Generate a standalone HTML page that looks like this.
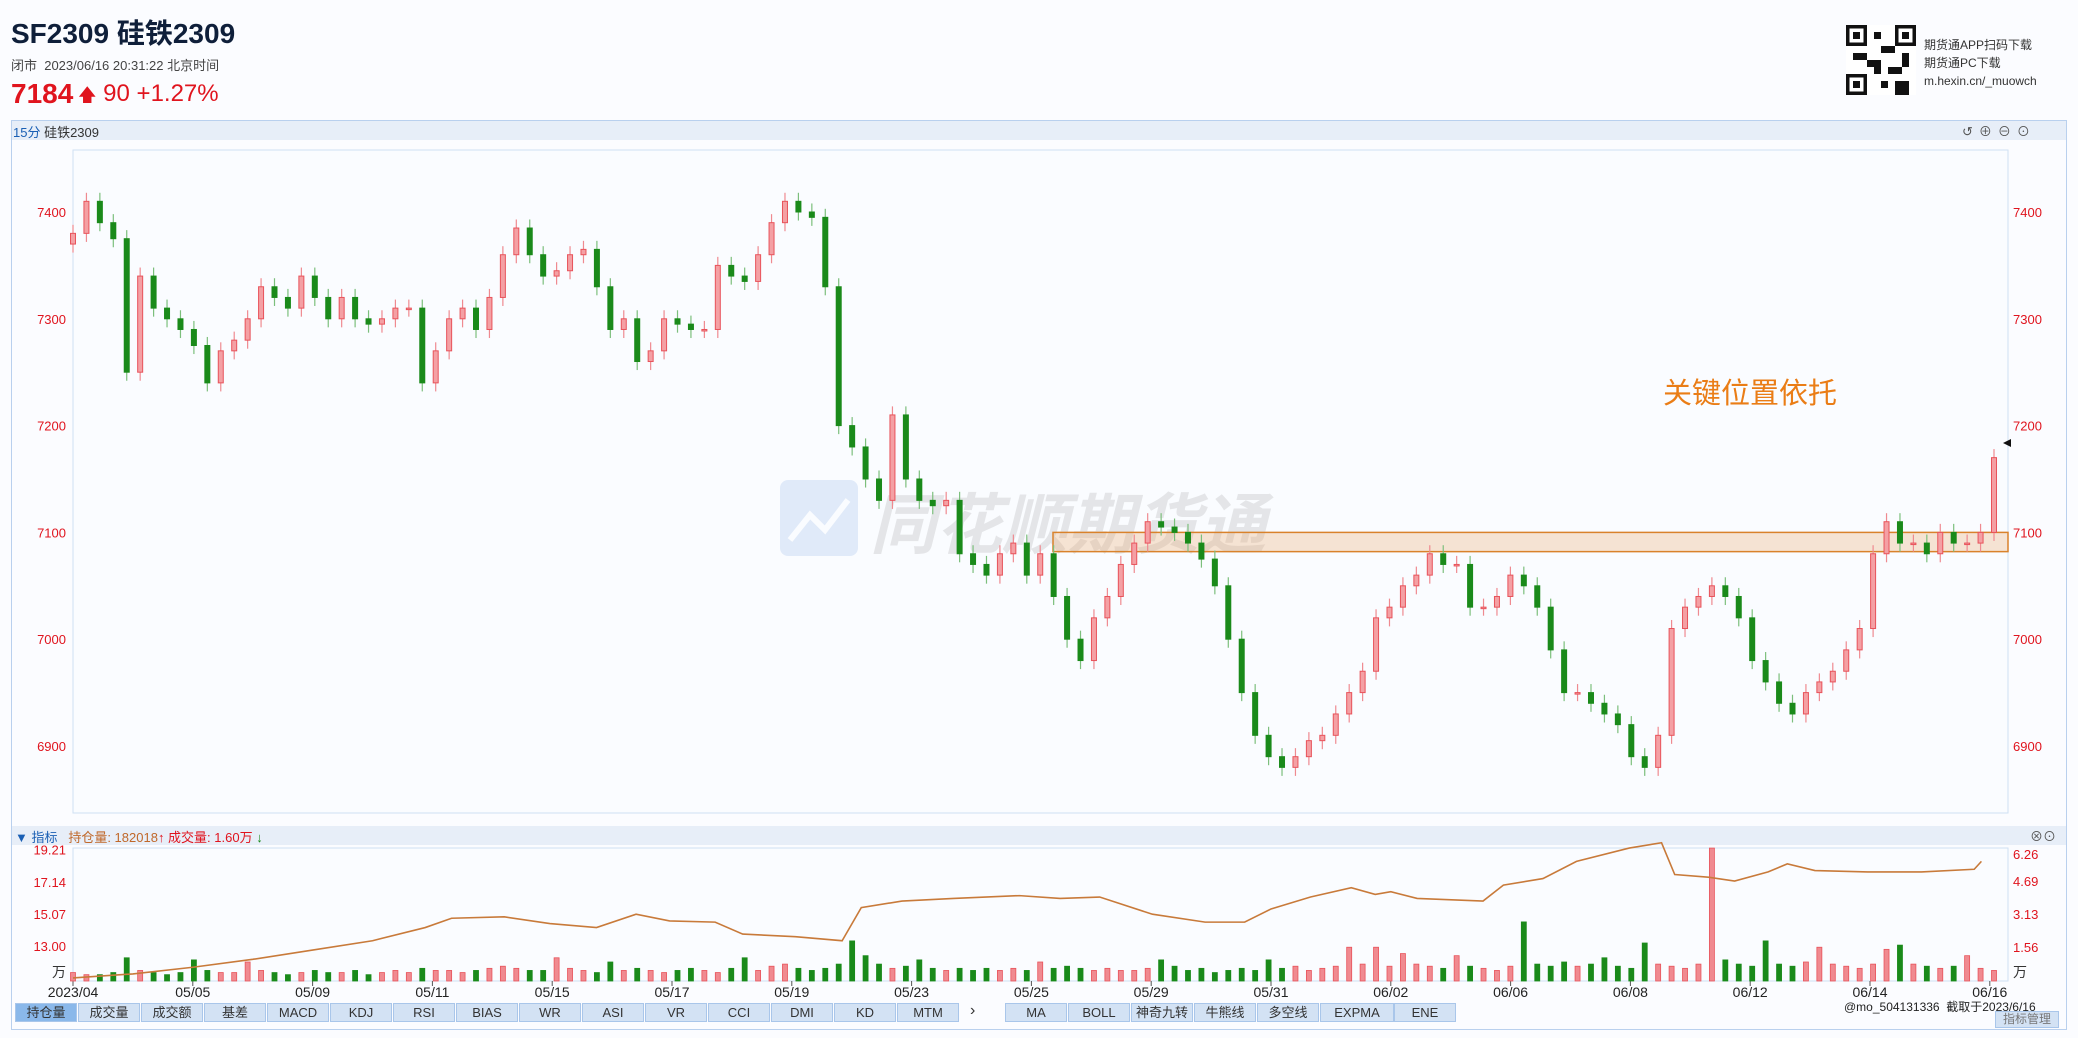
<!DOCTYPE html>
<html><head><meta charset="utf-8">
<style>
body{margin:0;width:2078px;height:1038px;background:#fbfcff;font-family:"Liberation Sans","Noto Sans CJK SC",sans-serif;overflow:hidden;position:relative}
.abs{position:absolute;white-space:nowrap}
.tab{position:absolute;top:1003px;height:19px;width:62px;background:#d3e2f4;border:1px solid #a9c6ea;box-sizing:border-box;font-size:13px;color:#333;text-align:center;line-height:18px}
</style></head><body>
<div class="abs" style="left:11px;top:12px;font-size:28px;font-weight:bold;color:#0f1f3a">SF2309 硅铁2309</div>
<div class="abs" style="left:11px;top:55px;font-size:13px;color:#444">闭市&nbsp; 2023/06/16 20:31:22 北京时间</div>
<div class="abs" style="left:11px;top:78px;font-size:28px;font-weight:bold;color:#e0141e">7184</div>
<div class="abs" style="left:78px;top:80px;font-size:24px;color:#e0141e"><span style="font-size:18px">🡅</span> 90 +1.27%</div>
<svg class="abs" style="left:1846px;top:24px" width="70" height="72" viewBox="0 0 10 10"><rect width="10" height="10" fill="#fff"/><path d="M0 0h3v3H0zM7 0h3v3H7zM0 7h3v3H0z M4 1h1v1H4zM5 3h2v1H5zM4 5h1v2H4zM6 6h2v1H6zM8 4h1v2H8zM5 8h1v1H5zM7 8h2v2H7zM1 4h2v1H1zM3 5h1v1H3z" fill="#111"/><path d="M.5 .5h2v2h-2zM7.5 .5h2v2h-2zM.5 7.5h2v2h-2z" fill="#fff"/><path d="M1 1h1v1H1zM8 1h1v1H8zM1 8h1v1H1z" fill="#111"/></svg>
<div class="abs" style="left:1924px;top:36px;font-size:12px;line-height:18px;color:#333">期货通APP扫码下载<br>期货通PC下载<br>m.hexin.cn/_muowch</div>
<div class="abs" style="left:11px;top:120px;width:2056px;height:910px;border:1px solid #b9d0ee;box-sizing:border-box"></div>
<div class="abs" style="left:12px;top:121px;width:2054px;height:19px;background:#e7eef8"></div>
<div class="abs" style="left:13px;top:122px;font-size:13px;color:#1a5fb4">15分 <span style="color:#333">硅铁2309</span></div>
<div class="abs" style="left:1962px;top:121px;font-size:13px;color:#555;letter-spacing:6px">↺⊕⊖⊙</div>
<div class="abs" style="left:12px;top:826px;width:2054px;height:19px;background:#e7eef8"></div>
<div class="abs" style="left:15px;top:827px;font-size:13px;color:#1a5fb4">▼ 指标 &nbsp; <span style="color:#c0682a">持仓量: 182018</span><span style="color:#e0141e">↑ 成交量: 1.60万</span> <span style="color:#1a8a1a">↓</span></div>
<div class="abs" style="left:2030px;top:826px;font-size:13px;color:#555">⊗⊙</div>
<svg id="chart" class="abs" style="left:0;top:0" width="2078" height="1038"></svg>
<div id="tabs"></div>
<div class="abs" style="left:970px;top:1002px;font-size:16px;color:#333">›</div>
<div class="abs" style="left:1844px;top:998px;font-size:12px;color:#222">@mo_504131336&nbsp; 截取于2023/6/16</div>
<div class="abs" style="left:1995px;top:1011px;width:62px;height:15px;background:#d3e2f4;border:1px solid #a9c6ea;font-size:12px;color:#777;text-align:center;line-height:15px;overflow:hidden">指标管理</div>
<script>
const closes=[7380,7410,7390,7375,7250,7340,7310,7300,7290,7275,7240,7270,7280,7300,7330,7320,7310,7340,7320,7300,7320,7300,7295,7300,7310,7310,7240,7270,7300,7310,7290,7320,7360,7385,7360,7340,7345,7360,7365,7330,7290,7300,7260,7270,7300,7295,7290,7290,7350,7340,7335,7360,7390,7410,7400,7395,7330,7200,7180,7150,7130,7210,7150,7130,7125,7130,7080,7070,7060,7080,7090,7060,7080,7040,7000,6980,7020,7040,7070,7090,7110,7105,7100,7090,7075,7050,7000,6950,6910,6890,6880,6890,6905,6910,6930,6950,6970,7020,7030,7050,7060,7080,7070,7070,7030,7030,7040,7060,7050,7030,6990,6950,6950,6940,6930,6920,6890,6880,6910,7010,7030,7040,7050,7040,7020,6980,6960,6940,6930,6950,6960,6970,6990,7010,7080,7110,7090,7090,7080,7100,7090,7090,7100,7170];
const volumes=[0.4,0.3,0.3,0.4,1.1,0.5,0.4,0.3,0.4,1.0,0.5,0.4,0.4,0.9,0.5,0.4,0.3,0.4,0.5,0.4,0.4,0.5,0.3,0.4,0.5,0.4,0.6,0.5,0.5,0.4,0.5,0.6,0.7,0.6,0.5,0.5,1.1,0.6,0.5,0.4,0.9,0.5,0.6,0.5,0.4,0.5,0.6,0.5,0.4,0.6,1.1,0.5,0.7,0.8,0.6,0.5,0.6,0.8,1.9,1.2,0.8,0.6,0.7,1.0,0.6,0.5,0.6,0.5,0.6,0.5,0.6,0.5,0.9,0.6,0.7,0.6,0.5,0.6,0.5,0.5,0.6,1.0,0.7,0.5,0.6,0.4,0.5,0.6,0.5,1.0,0.6,0.7,0.5,0.6,0.7,1.6,0.8,1.6,0.7,1.3,0.8,0.7,0.6,1.2,0.7,0.6,0.5,0.7,2.8,0.8,0.7,0.9,0.7,0.8,1.1,0.7,0.6,1.8,0.8,0.7,0.6,0.8,6.3,1.0,0.8,0.7,1.9,0.8,0.7,0.9,1.6,0.8,0.7,0.6,0.8,1.5,1.7,0.8,0.7,0.6,0.7,1.2,0.6,0.5,0.7,2.0];
const oiDays=[0,0.5,1,1.5,2,2.5,2.94,3.16,3.6,3.98,4.37,4.7,4.98,5.36,5.59,6.03,6.42,6.58,6.92,7.35,7.9,8.24,8.57,9.01,9.45,9.78,10.0,10.33,10.67,10.87,11.0,11.22,11.77,11.94,12.27,12.55,12.99,13.26,13.37,13.65,13.87,14.15,14.31,14.54,14.98,15.43,15.87,15.93];
const oiValues=[10.94,11.2,11.63,12.14,12.74,13.34,14.19,14.79,14.88,14.45,14.19,15.05,14.62,14.54,13.77,13.6,13.34,15.48,15.9,16.07,16.25,16.07,16.16,15.05,14.54,14.54,15.39,16.16,16.76,16.33,16.5,16.07,15.9,16.93,17.35,18.46,19.32,19.66,17.61,17.44,17.19,17.78,18.3,17.87,17.78,17.78,17.95,18.46];
const priceTicks=[7400,7300,7200,7100,7000,6900];
const oiTicks=["19.21","17.14","15.07","13.00"];
const volTicks=["6.26","4.69","3.13","1.56"];
const dateLabels=["2023/04","05/05","05/09","05/11","05/15","05/17","05/19","05/23","05/25","05/29","05/31","06/02","06/06","06/08","06/12","06/14","06/16"];
const bandLow=7082, bandHigh=7100;
const tabNames=["持仓量","成交量","成交额","基差","MACD","KDJ","RSI","BIAS","WR","ASI","VR","CCI","DMI","KD","MTM"];
const tabNames2=["MA","BOLL","神奇九转","牛熊线","多空线","EXPMA","ENE"];

const NS="http://www.w3.org/2000/svg",svg=document.getElementById('chart');
function el(t,a,p){const e=document.createElementNS(NS,t);for(const k in a)e.setAttribute(k,a[k]);(p||svg).appendChild(e);return e;}
const PX0=73,PX1=1994,PW=2008;
const xI=i=>PX0+(PX1-PX0)*i/(closes.length-1);
const xD=d=>73+d*119.8;
const yP=p=>212+(7400-p)*1.068;
const yV=v=>981-v*21.1;
const yO=v=>946-(v-13)*15.5;
let r=el('rect',{x:73,y:150,width:PW-73,height:663,fill:'#fafcff',stroke:'#cfe0f3'});

r=el('rect',{x:73,y:848,width:PW-73,height:133,fill:'#fafcff',stroke:'#cfe0f3'});

let wm=el('g',{opacity:0.13});

el('rect',{x:780,y:480,width:78,height:76,rx:8,fill:'#3a7bd5'},wm);
el('path',{d:'M790 540 L810 515 L825 530 L848 500',stroke:'#fff','stroke-width':6,fill:'none'},wm);
let wt=el('text',{x:870,y:548,'font-size':66,'font-weight':'bold','font-style':'italic',fill:'#555'},wm);wt.textContent='同花顺期货通';
let b=el('rect',{x:1053,y:yP(bandHigh),width:PW-1053,height:yP(bandLow)-yP(bandHigh),fill:'rgba(235,170,110,0.3)',stroke:'#d9822b','stroke-width':1.5});

let ann=el('text',{x:1663,y:403,'font-size':29,fill:'#ea7d16'});ann.textContent='关键位置依托';

priceTicks.forEach(p=>{let t=el('text',{x:66,y:yP(p)+5,'font-size':13,fill:'#e0141e','text-anchor':'end'});t.textContent=p;

let t2=el('text',{x:2013,y:yP(p)+5,'font-size':13,fill:'#e0141e'});t2.textContent=p;
});
oiTicks.forEach(v=>{let t=el('text',{x:66,y:yO(+v)+5,'font-size':13,fill:'#e0141e','text-anchor':'end'});t.textContent=v;
});
let wl=el('text',{x:66,y:977,'font-size':14,fill:'#333','text-anchor':'end'});wl.textContent='万';
let volTickY=[854,881,914,947];
volTicks.forEach((v,i)=>{let t=el('text',{x:2013,y:volTickY[i]+5,'font-size':13,fill:'#e0141e'});t.textContent=v;
});
let wr=el('text',{x:2013,y:977,'font-size':14,fill:'#333'});wr.textContent='万';
dateLabels.forEach((d,i)=>{const x=xD(i);el('line',{x1:x,x2:x,y1:981,y2:986,stroke:'#555'});
let t=el('text',{x:x,y:997,'font-size':14,fill:'#222','text-anchor':'middle'});t.textContent=d;
});
closes.forEach((c,i)=>{const o=i?closes[i-1]:c-10;const up=c>=o;const x=xI(i);
const hi=Math.max(o,c)+8,lo=Math.min(o,c)-8;
const g=el('g',{});


const col=up?'#e8535b':'#1a8a1a';
el('line',{x1:x,x2:x,y1:yP(hi),y2:yP(lo),stroke:up?'#ef8a90':'#7cbf7c','stroke-width':1.2},g);
el('rect',{x:x-2.5,y:yP(Math.max(o,c)),width:5,height:Math.max(1.5,Math.abs(yP(o)-yP(c))),fill:up?'#f4a0a4':'#1a8a1a',stroke:col,'stroke-width':1},g);
const v=volumes[i];
const vb=el('rect',{x:x-2.5,y:yV(v),width:5,height:981-yV(v),fill:up?'#f08a90':'#1a8a1a',stroke:col,'stroke-width':0.8});


});
let d='';oiDays.forEach((t,i)=>{d+=(i?'L':'M')+xD(t)+' '+yO(oiValues[i]);});
let ol=el('path',{d:d,fill:'none',stroke:'#c87a3a','stroke-width':1.6});

el('path',{d:'M2003 443 l8 -4 v8z',fill:'#111'});
const tabs=document.getElementById('tabs');
tabNames.forEach((n,i)=>{const t=document.createElement('div');t.className='tab';t.style.left=(15+i*63)+'px';t.textContent=n;
if(i==0){t.style.background='#8ab8ea';}


tabs.appendChild(t);});
tabNames2.forEach((n,i)=>{const t=document.createElement('div');t.className='tab';t.style.left=(1005+i*63)+'px';t.textContent=n;if(i==5)t.style.width='74px';if(i==6){t.style.left=(1005+i*63+11)+'px';}


tabs.appendChild(t);});
</script>
</body></html>
